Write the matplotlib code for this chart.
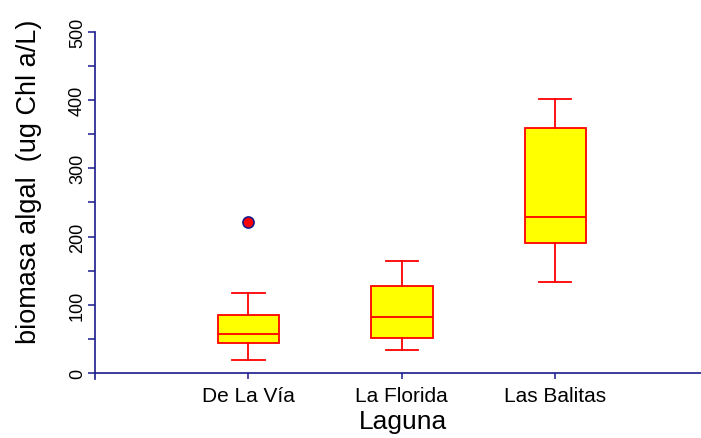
import matplotlib.pyplot as plt

plt.rcParams['font.family'] = ['Liberation Sans', 'DejaVu Sans']

# biomasa algal por laguna (resumen de cajas)
lagunas = ['De La Vía', 'La Florida', 'Las Balitas']
whislo = [19, 34, 134]
q1 = [44, 51, 190]
med = [57, 82, 228]
q3 = [85, 127, 359]
whishi = [118, 164, 401]
fliers = [[222], [], []]

stats = []
for i in range(len(lagunas)):
    stats.append(dict(label=lagunas[i], whislo=whislo[i], q1=q1[i], med=med[i],
                      q3=q3[i], whishi=whishi[i], fliers=fliers[i]))

azul = '#1a1a8c'
rojo = '#ff0000'

fig = plt.figure(figsize=(7.01, 4.39), dpi=100)
ax = fig.add_axes([0.1355, 0.134, 0.8645, 0.791])

ax.bxp(stats, positions=[1, 2, 3], widths=0.40, capwidths=0.21,
       patch_artist=True,
       boxprops=dict(facecolor='#ffff00', edgecolor=rojo, linewidth=1.3),
       medianprops=dict(color=rojo, linewidth=1.3),
       whiskerprops=dict(color=rojo, linewidth=1.3),
       capprops=dict(color=rojo, linewidth=1.3),
       flierprops=dict(marker='o', markerfacecolor=rojo, markeredgecolor=azul,
                       markersize=8, markeredgewidth=1.2))

ax.set_xlim(0, 3.95)
ax.set_ylim(-9, 500)
ax.spines['top'].set_visible(False)
ax.spines['right'].set_visible(False)
ax.spines['bottom'].set_position(('data', 0))
for s in ('left', 'bottom'):
    ax.spines[s].set_color(azul)
    ax.spines[s].set_linewidth(1.2)

ax.set_yticks([0, 100, 200, 300, 400, 500])
ax.set_yticks([50, 150, 250, 350, 450], minor=True)
ax.set_xticks([1, 2, 3])
ax.set_xticklabels(lagunas)
ax.tick_params(axis='y', which='major', direction='out', length=5, width=1.1,
               color=azul, labelsize=13, labelrotation=90, pad=1.5)
ax.tick_params(axis='y', which='minor', direction='out', length=5, width=1.1,
               color=azul)
ax.tick_params(axis='x', direction='out', length=4, width=1.1, color=azul,
               labelsize=15, pad=5)
for lab in ax.get_yticklabels():
    lab.set_va('center')

ax.set_xlabel('Laguna', fontsize=19)
ax.xaxis.set_label_coords(0.508, -0.085)
ax.set_ylabel('biomasa algal  (ug Chl a/L)', fontsize=19.5)
ax.yaxis.set_label_coords(-0.0875, 0.571)

fig.savefig('out.png', dpi=100)
